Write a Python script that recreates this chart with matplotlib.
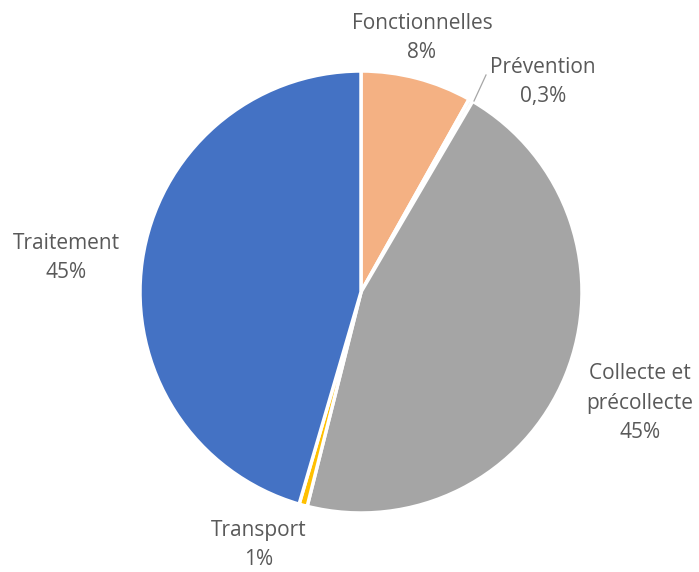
import matplotlib
matplotlib.use("Agg")
import matplotlib.pyplot as plt

categories = ["Fonctionnelles", "Prévention", "Collecte et\nprécollecte", "Transport", "Traitement"]
values = [8.1, 0.3, 45.3, 0.6, 45.3]
pct_labels = ["8%", "0,3%", "45%", "1%", "45%"]
colors = ["#F4B183", "#F2F2F2", "#A5A5A5", "#FFC000", "#4472C4"]

W, H = 699, 572
fig = plt.figure(figsize=(W / 100, H / 100), dpi=100)
ax = fig.add_axes([0, 0, 1, 1])

cx, cy, r = 361, H - 292, 221
ax.pie(values, colors=colors, startangle=90, counterclock=False,
       center=(cx, cy), radius=r, frame=True,
       wedgeprops=dict(edgecolor="white", linewidth=2.5))
ax.set_xlim(0, W)
ax.set_ylim(0, H)
ax.set_aspect("equal")
ax.axis("off")

font = dict(family=["Open Sans", "DejaVu Sans"], fontsize=15, color="#595959",
            ha="center", va="center", linespacing=1.55)
label_pos = [(422, 38), (543, 82), (640, 403), (259, 545), (66, 258)]
for name, pct, (x, y) in zip(categories, pct_labels, label_pos):
    ax.text(x, H - y, f"{name}\n{pct}", **font)

# leader line for Prévention
ax.plot([474, 486], [H - 101, H - 75], color="#A6A6A6", lw=0.9)

fig.savefig("out.png", dpi=100)
